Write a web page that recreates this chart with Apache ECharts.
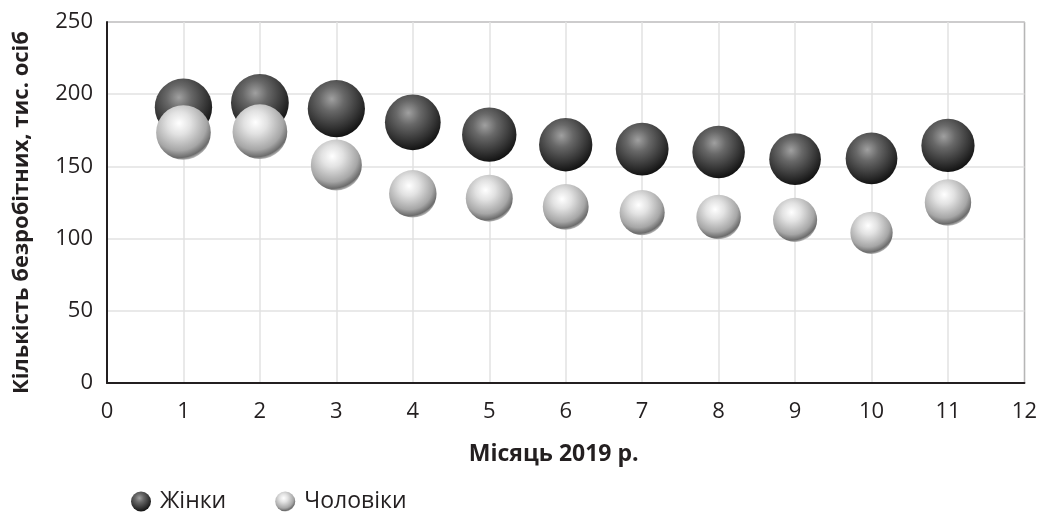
<!DOCTYPE html>
<html>
<head>
<meta charset="utf-8">
<script src="https://cdn.jsdelivr.net/npm/echarts@6/dist/echarts.min.js"></script>
<style>html,body{margin:0;padding:0;background:#fff}#c{width:1040px;height:512px}</style>
</head>
<body>
<div id="c"></div>
<script>
const months = [1, 2, 3, 4, 5, 6, 7, 8, 9, 10, 11];
const women = [191, 194, 190, 180.5, 172, 165, 162, 160, 155, 155.5, 164.5];
const men = [173.5, 174, 151, 131, 128, 122, 118, 115, 113, 104, 125];
const seriesNames = ['Жінки', 'Чоловіки'];
const xTicks = [0, 12, 1];
const yTicks = [0, 250, 50];

const font = '"Open Sans", "Noto Sans", sans-serif';
const darkGrad = {type: 'radial', x: 0.42, y: 0.33, r: 0.72, colorStops: [
  {offset: 0, color: '#a0a0a0'}, {offset: 0.3, color: '#686868'},
  {offset: 0.7, color: '#333333'}, {offset: 0.92, color: '#151515'}, {offset: 1, color: '#0c0c0c'}]};
const lightGrad = {type: 'radial', x: 0.42, y: 0.33, r: 0.7, colorStops: [
  {offset: 0, color: '#ffffff'}, {offset: 0.3, color: '#e2e2e2'},
  {offset: 0.72, color: '#a6a6a6'}, {offset: 0.9, color: '#6c6c6c'}, {offset: 1, color: '#d8d8d8'}]};
const sz = v => 4.15 * Math.sqrt(v[1]);

const chart = echarts.init(document.getElementById('c'), null, {renderer: 'canvas'});
chart.setOption({
  animation: false,
  grid: {left: 107, top: 22, right: 12, bottom: 129, show: true, borderColor: '#231f20', borderWidth: 1, backgroundColor: 'transparent'},
  legend: {
    left: 126, top: 485, itemGap: 49, itemWidth: 22, itemHeight: 20,
    icon: 'circle',
    textStyle: {fontFamily: font, fontSize: 23, color: '#231f20', padding: [0, 0, 0, 3]},
    data: seriesNames
  },
  xAxis: {
    type: 'value', min: xTicks[0], max: xTicks[1], interval: xTicks[2],
    axisLine: {show: true, lineStyle: {color: '#231f20', width: 2}},
    axisTick: {show: false},
    axisLabel: {fontFamily: font, fontSize: 22, color: '#231f20', margin: 18},
    splitLine: {show: true, lineStyle: {color: '#e2e2e2', width: 1.5}},
    name: 'Місяць 2019 р.', nameLocation: 'middle', nameGap: 60,
    nameTextStyle: {fontFamily: font, fontSize: 23, fontWeight: 'bold', color: '#231f20', padding: [0, 24, 0, 0]}
  },
  yAxis: {
    type: 'value', min: yTicks[0], max: yTicks[1], interval: yTicks[2],
    axisLine: {show: true, lineStyle: {color: '#231f20', width: 2}},
    axisTick: {show: false},
    axisLabel: {fontFamily: font, fontSize: 22, color: '#231f20', margin: 14},
    splitLine: {show: true, lineStyle: {color: '#e2e2e2', width: 1.5}},
    name: 'Кількість безробітних, тис. осіб', nameLocation: 'middle', nameGap: 74,
    nameTextStyle: {fontFamily: font, fontSize: 22, fontWeight: 'bold', color: '#231f20', padding: [0, 20, 0, 0]}
  },
  series: [
    {name: seriesNames[0], type: 'scatter', data: months.map((m, i) => [m, women[i]]),
     symbolSize: sz, itemStyle: {color: darkGrad, opacity: 1}, z: 2},
    {name: seriesNames[1], type: 'scatter', data: months.map((m, i) => [m, men[i]]),
     symbolSize: sz, itemStyle: {color: lightGrad, opacity: 1}, z: 3}
  ]
});
</script>
</body>
</html>
